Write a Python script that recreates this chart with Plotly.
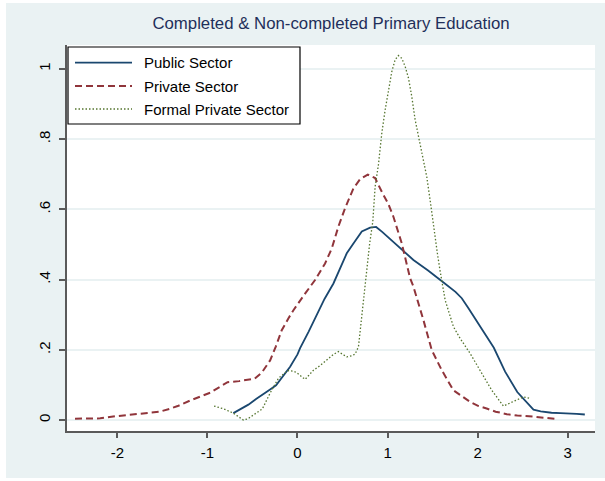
import plotly.graph_objects as go

title_text = "Completed & Non-completed Primary Education"
series_names = ["Public Sector", "Private Sector", "Formal Private Sector"]

public_x = [-0.712, -0.62, -0.545, -0.46, -0.397, -0.30, -0.238, -0.16, -0.082, 0.0, 0.029,
            0.124, 0.214, 0.30, 0.399, 0.467, 0.547, 0.621, 0.714, 0.806, 0.873, 0.94, 1.009,
            1.11, 1.20, 1.287, 1.45, 1.565, 1.625, 1.754, 1.824, 1.90, 1.968, 2.064, 2.18,
            2.305, 2.44, 2.546, 2.62, 2.70, 2.82, 2.92, 3.02, 3.10, 3.19]
public_y = [0.020, 0.034, 0.044, 0.060, 0.072, 0.088, 0.099, 0.125, 0.152, 0.187, 0.205,
            0.252, 0.302, 0.345, 0.389, 0.428, 0.475, 0.503, 0.537, 0.548, 0.550, 0.536, 0.520,
            0.497, 0.478, 0.456, 0.426, 0.404, 0.391, 0.365, 0.347, 0.318, 0.292, 0.252, 0.206,
            0.138, 0.080, 0.052, 0.030, 0.025, 0.021, 0.020, 0.020, 0.018, 0.016]

private_x = [-2.47, -2.30, -2.19, -2.02, -1.88, -1.76, -1.53, -1.42, -1.33, -1.19, -1.08,
             -0.969, -0.88, -0.776, -0.648, -0.545, -0.476, -0.397, -0.304, -0.24, -0.175,
             -0.10, -0.045, 0.084, 0.195, 0.306, 0.381, 0.454, 0.528, 0.621, 0.695, 0.78,
             0.862, 0.936, 1.009, 1.065, 1.158, 1.25, 1.287, 1.398, 1.491, 1.602, 1.731,
             1.916, 2.01, 2.10, 2.20, 2.324, 2.44, 2.619, 2.75, 2.878]
private_y = [0.004, 0.004, 0.005, 0.011, 0.015, 0.019, 0.024, 0.032, 0.040, 0.056, 0.066,
             0.078, 0.092, 0.108, 0.111, 0.114, 0.118, 0.135, 0.170, 0.210, 0.256,
             0.290, 0.313, 0.360, 0.399, 0.446, 0.489, 0.551, 0.603, 0.660, 0.686, 0.699,
             0.689, 0.650, 0.615, 0.579, 0.503, 0.404, 0.380, 0.285, 0.199, 0.142, 0.085,
             0.052, 0.040, 0.033, 0.024, 0.017, 0.013, 0.010, 0.007, 0.003]

formal_x = [-0.926, -0.82, -0.712, -0.65, -0.60, -0.55, -0.434, -0.39, -0.304, -0.212, -0.11,
            -0.04, -0.008, 0.084, 0.177, 0.25, 0.325, 0.40, 0.454, 0.50, 0.547, 0.60, 0.64,
            0.677, 0.714, 0.751, 0.775, 0.80, 0.836, 0.862, 0.899, 0.936, 0.973, 1.01, 1.047,
            1.084, 1.12, 1.158, 1.195, 1.232, 1.269, 1.306, 1.342, 1.398, 1.435, 1.472, 1.509,
            1.553, 1.583, 1.639, 1.731, 1.805, 1.916, 2.027, 2.157, 2.286, 2.397, 2.508, 2.582]
formal_y = [0.040, 0.032, 0.020, 0.008, 0.000, 0.004, 0.024, 0.032, 0.077, 0.119, 0.141,
            0.139, 0.135, 0.116, 0.142, 0.155, 0.171, 0.187, 0.195, 0.188, 0.180, 0.183, 0.188,
            0.209, 0.300, 0.390, 0.440, 0.500, 0.565, 0.665, 0.728, 0.817, 0.883, 0.940, 0.992,
            1.026, 1.038, 1.030, 1.007, 0.974, 0.921, 0.855, 0.807, 0.741, 0.693, 0.627, 0.551,
            0.475, 0.425, 0.342, 0.266, 0.233, 0.190, 0.142, 0.085, 0.040, 0.052, 0.066, 0.062]

x_ticks = [-2, -1, 0, 1, 2, 3]
x_ticktext = ["-2", "-1", "0", "1", "2", "3"]
y_ticks = [0, 0.2, 0.4, 0.6, 0.8, 1.0]
y_ticktext = ["0", ".2", ".4", ".6", ".8", "1"]

colors = ["#1a476f", "#90353b", "#55752f"]
dashes = ["solid", "7px,4px", "1.5px,2px"]
widths = [1.8, 2.0, 1.3]
FONT = "Liberation Sans, Arial, sans-serif"
BG = "#eaf2f3"

fig = go.Figure()
for name, xs, ys, c, d, w in zip(series_names,
                                 [public_x, private_x, formal_x],
                                 [public_y, private_y, formal_y],
                                 colors, dashes, widths):
    fig.add_trace(go.Scatter(x=xs, y=ys, mode="lines", name=name,
                             line=dict(color=c, dash=d, width=w),
                             showlegend=False, hoverinfo="skip"))

W, H = 605, 481
L, R, T, B = 67, 10, 45, 50
pw, ph = W - L - R, H - T - B

def px_x(p):
    return (p - L) / pw

def px_y(p):
    return (H - B - p) / ph

shapes = [
    dict(type="rect", xref="paper", yref="paper", layer="below",
         x0=px_x(6), x1=px_x(605), y0=px_y(478), y1=px_y(3),
         fillcolor=BG, line=dict(width=0)),
    dict(type="rect", xref="paper", yref="paper", layer="below",
         x0=0, x1=1, y0=0, y1=1, fillcolor="white", line=dict(width=0)),
    # legend box
    dict(type="rect", xref="paper", yref="paper",
         x0=px_x(68), x1=px_x(300), y0=px_y(124), y1=px_y(47),
         fillcolor="white", line=dict(color="black", width=1.2)),
]
annotations = []
leg_y = [62.7, 86, 109]
for name, c, d, w, ly in zip(series_names, colors, dashes, widths, leg_y):
    shapes.append(dict(type="line", xref="paper", yref="paper",
                       x0=px_x(75), x1=px_x(132), y0=px_y(ly), y1=px_y(ly),
                       line=dict(color=c, dash=d, width=w)))
    annotations.append(dict(xref="paper", yref="paper", x=px_x(142), y=px_y(ly),
                            xanchor="left", yanchor="middle", showarrow=False,
                            text=name, font=dict(family=FONT, size=15, color="black")))

fig.update_layout(
    width=W, height=H,
    margin=dict(l=L, r=R, t=T, b=B),
    paper_bgcolor="white",
    plot_bgcolor="white",
    title=dict(text=title_text, x=0.5, xref="paper", xanchor="center",
               y=1 - 23 / H, yref="container", yanchor="middle",
               font=dict(family=FONT, size=16.8, color="#1f2f5a")),
    shapes=shapes,
    annotations=annotations,
    showlegend=False,
    hovermode=False,
    xaxis=dict(range=[-2.559, 3.303], tickvals=x_ticks, ticktext=x_ticktext,
               showgrid=False, zeroline=False, showline=True, linecolor="#5a5a5a",
               linewidth=2, ticks="outside", ticklen=5, tickwidth=1.5, tickcolor="#5a5a5a",
               tickfont=dict(family=FONT, size=15, color="black"), ticklabelstandoff=2),
    yaxis=dict(range=[-0.031, 1.068], tickvals=y_ticks, ticktext=y_ticktext,
               showgrid=True, gridcolor=BG, gridwidth=1.5, zeroline=False,
               showline=True, linecolor="#5a5a5a", linewidth=2,
               ticks="outside", ticklen=6, tickwidth=1.5, tickcolor="#5a5a5a",
               tickangle=-90, tickfont=dict(family=FONT, size=15, color="black"),
               ticklabelstandoff=3),
)

fig.write_html("out.html", config={"displayModeBar": False},
               post_script="document.body.style.margin='0';")
